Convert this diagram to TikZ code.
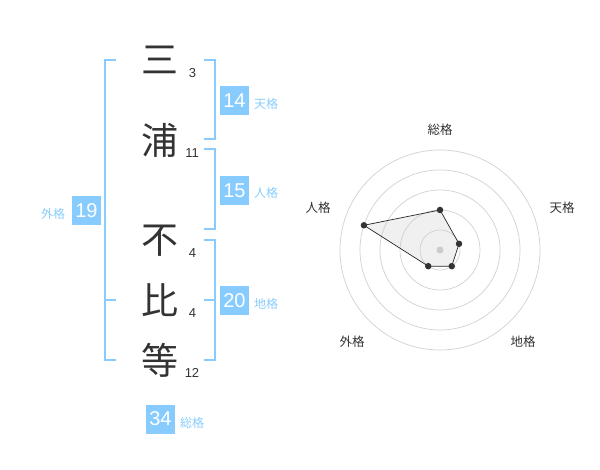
\documentclass[tikz,border=0pt]{standalone}
\usepackage{fontspec}
\setmainfont{Liberation Sans}
\newfontfamily\cjk{Noto Sans CJK JP}
\begin{document}
\begin{tikzpicture}[x=1pt,y=-1pt,
  kanji/.style={inner sep=0pt,font=\cjk\fontsize{37}{37}\selectfont,text=black!80},
  strokes/.style={inner sep=0pt,font=\fontsize{13}{13}\selectfont,text=black!80},
  valbox/.style={fill=boxblue,text=white,minimum width=29pt,minimum height=29pt,inner sep=0pt,font=\fontsize{20}{20}\selectfont},
  vallabel/.style={inner sep=0pt,text=lblblue,font=\cjk\fontsize{12}{12}\selectfont},
  bracket/.style={draw=brblue,line width=2pt},
  ring/.style={draw=black!18,line width=0.7pt},
  axislabel/.style={inner sep=0pt,text=black!80,font=\cjk\fontsize{12.5}{12.5}\selectfont},
  dot/.style={circle,fill=black!80,inner sep=0pt,minimum size=6.5pt}
]
\definecolor{boxblue}{HTML}{88CCFF}
\definecolor{brblue}{HTML}{88CCFF}
\definecolor{lblblue}{HTML}{88CCFF}
\useasboundingbox (0,0) rectangle (600,470);
% kanji
\node[kanji] (k1) at (160,60) {三};
\node[kanji] (k2) at (160,140) {浦};
\node[kanji] (k3) at (160,241) {不};
\node[kanji] (k4) at (160,300) {比};
\node[kanji] (k5) at (160,360) {等};
\node[strokes] (s1) at (192.5,73) {3};
\node[strokes] (s2) at (192,153) {11};
\node[strokes] (s3) at (192.5,253) {4};
\node[strokes] (s4) at (192.5,313) {4};
\node[strokes] (s5) at (192,373) {12};
% brackets
\coordinate (la) at (116,60); \coordinate (lb) at (105,60);
\coordinate (lc) at (105,360); \coordinate (ld) at (116,360);
\coordinate (lm1) at (105,300); \coordinate (lm2) at (116,300);
\draw[bracket] (la) -- (lb) -- (lc) -- (ld);
\draw[bracket] (lm1) -- (lm2);
\coordinate (r1a) at (204,60); \coordinate (r1b) at (215,60);
\coordinate (r1c) at (215,139); \coordinate (r1d) at (204,139);
\draw[bracket] (r1a) -- (r1b) -- (r1c) -- (r1d);
\coordinate (r2a) at (204,149); \coordinate (r2b) at (215,149);
\coordinate (r2c) at (215,229); \coordinate (r2d) at (204,229);
\draw[bracket] (r2a) -- (r2b) -- (r2c) -- (r2d);
\coordinate (r3a) at (204,240); \coordinate (r3b) at (215,240);
\coordinate (r3c) at (215,360); \coordinate (r3d) at (204,360);
\coordinate (r3m1) at (204,300); \coordinate (r3m2) at (215,300);
\draw[bracket] (r3a) -- (r3b) -- (r3c) -- (r3d);
\draw[bracket] (r3m1) -- (r3m2);
% value boxes
\node[valbox] (b14) at (234.5,100.5) {14};
\node[vallabel] (t14) at (266,104) {天格};
\node[valbox] (b15) at (234.5,190.5) {15};
\node[vallabel] (t15) at (266,193) {人格};
\node[valbox] (b20) at (234.5,300.5) {20};
\node[vallabel] (t20) at (266,304) {地格};
\node[valbox] (b19) at (86.5,210.5) {19};
\node[vallabel] (t19) at (53,213.5) {外格};
\node[valbox] (b34) at (160.5,419) {34};
\node[vallabel] (t34) at (192,423) {総格};
% radar
\coordinate (c) at (440,250);
\path (c) ++(90:-40) coordinate (p1);
\path (c) ++(-18:20) coordinate (p2);
\path (c) ++(54:20) coordinate (p3);
\path (c) ++(126:20) coordinate (p4);
\path (c) ++(198:80) coordinate (p5);
\fill[black!6] (p1) -- (p2) -- (p3) -- (p4) -- (p5) -- cycle;
\foreach \r in {20,40,60,80,100} \draw[ring] (c) circle[radius=\r];
\fill[black!20] (c) circle[radius=3.5];
\draw[black!85,line width=0.7pt] (p1) -- (p2) -- (p3) -- (p4) -- (p5) -- cycle;
\foreach \p in {p1,p2,p3,p4,p5} \node[dot] at (\p) {};
\node[axislabel] (a1) at (440,130) {総格};
\node[axislabel] (a2) at (562,208) {天格};
\node[axislabel] (a3) at (523,342) {地格};
\node[axislabel] (a4) at (352,342) {外格};
\node[axislabel] (a5) at (318,208) {人格};
\end{tikzpicture}
\end{document}
